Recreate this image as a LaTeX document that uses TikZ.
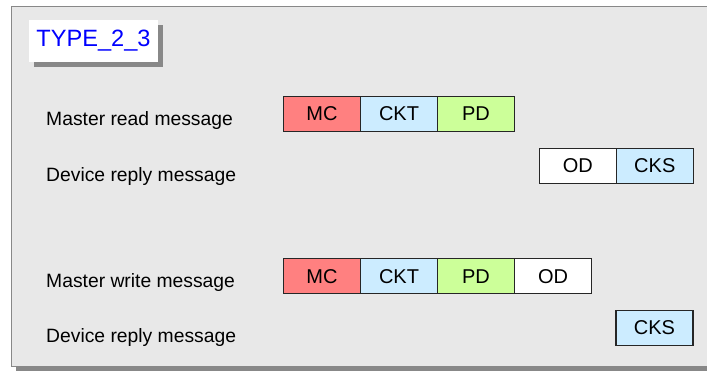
\documentclass[tikz,border=0pt]{standalone}
\usepackage{fontspec}
\setmainfont{Liberation Sans}
\usetikzlibrary{positioning,shadows}
\definecolor{panelgrey}{RGB}{232,232,232}
\definecolor{framegrey}{RGB}{136,136,136}
\definecolor{mcred}{RGB}{255,128,128}
\definecolor{cktblue}{RGB}{204,236,255}
\definecolor{pdgreen}{RGB}{204,255,153}
\definecolor{typeblue}{RGB}{0,0,255}

\begin{document}
\begin{tikzpicture}[x=1pt,y=-1pt,
    node distance=0pt,
    field/.style={draw=black!85,line width=1.3pt,minimum width=77pt,minimum height=35pt,
      inner sep=0pt,outer sep=0pt,font=\fontsize{20}{24}\selectfont},
    msg/.style={anchor=base west,inner sep=0pt,font=\fontsize{19.3}{23}\selectfont},
    greyshadow/.style={drop shadow={shadow xshift=#1,shadow yshift=-#1,fill=framegrey,opacity=1}}]
  \useasboundingbox (0,0) rectangle (707,372);
  % panel
  \draw[framegrey,line width=1.5pt,fill=panelgrey,greyshadow=4.5pt] (11.5,6.5) rectangle (715,366.5);
  \node[fill=white,text=typeblue,minimum width=129pt,minimum height=42pt,inner sep=0pt,
    font=\fontsize{23.6}{28}\selectfont,greyshadow=5pt] (type) at (93.5,41) {TYPE\_2\_3};
  % master read
  \node[msg] (rdlbl) at (46,125.8) {Master read message};
  \node[field,fill=mcred,anchor=west] (rdmc) at (283.5,114) {MC};
  \node[field,fill=cktblue,right=of rdmc] (rdckt) {CKT};
  \node[field,fill=pdgreen,right=of rdckt] (rdpd) {PD};
  % device reply
  \node[msg] (rplbl) at (46,181) {Device reply message};
  \node[field,fill=white,anchor=west] (rpod) at (539.3,165.7) {OD};
  \node[field,fill=cktblue,right=of rpod] (rpcks) {CKS};
  % master write
  \node[msg] (wrlbl) at (46,287) {Master write message};
  \node[field,fill=mcred,anchor=west] (wrmc) at (283.5,276.2) {MC};
  \node[field,fill=cktblue,right=of wrmc] (wrckt) {CKT};
  \node[field,fill=pdgreen,right=of wrckt] (wrpd) {PD};
  \node[field,fill=white,right=of wrpd] (wrod) {OD};
  % device reply
  \node[msg] (wslbl) at (46,342) {Device reply message};
  \node[field,fill=cktblue,anchor=west] (wscks) at (616,327.7) {CKS};
\end{tikzpicture}
\end{document}
